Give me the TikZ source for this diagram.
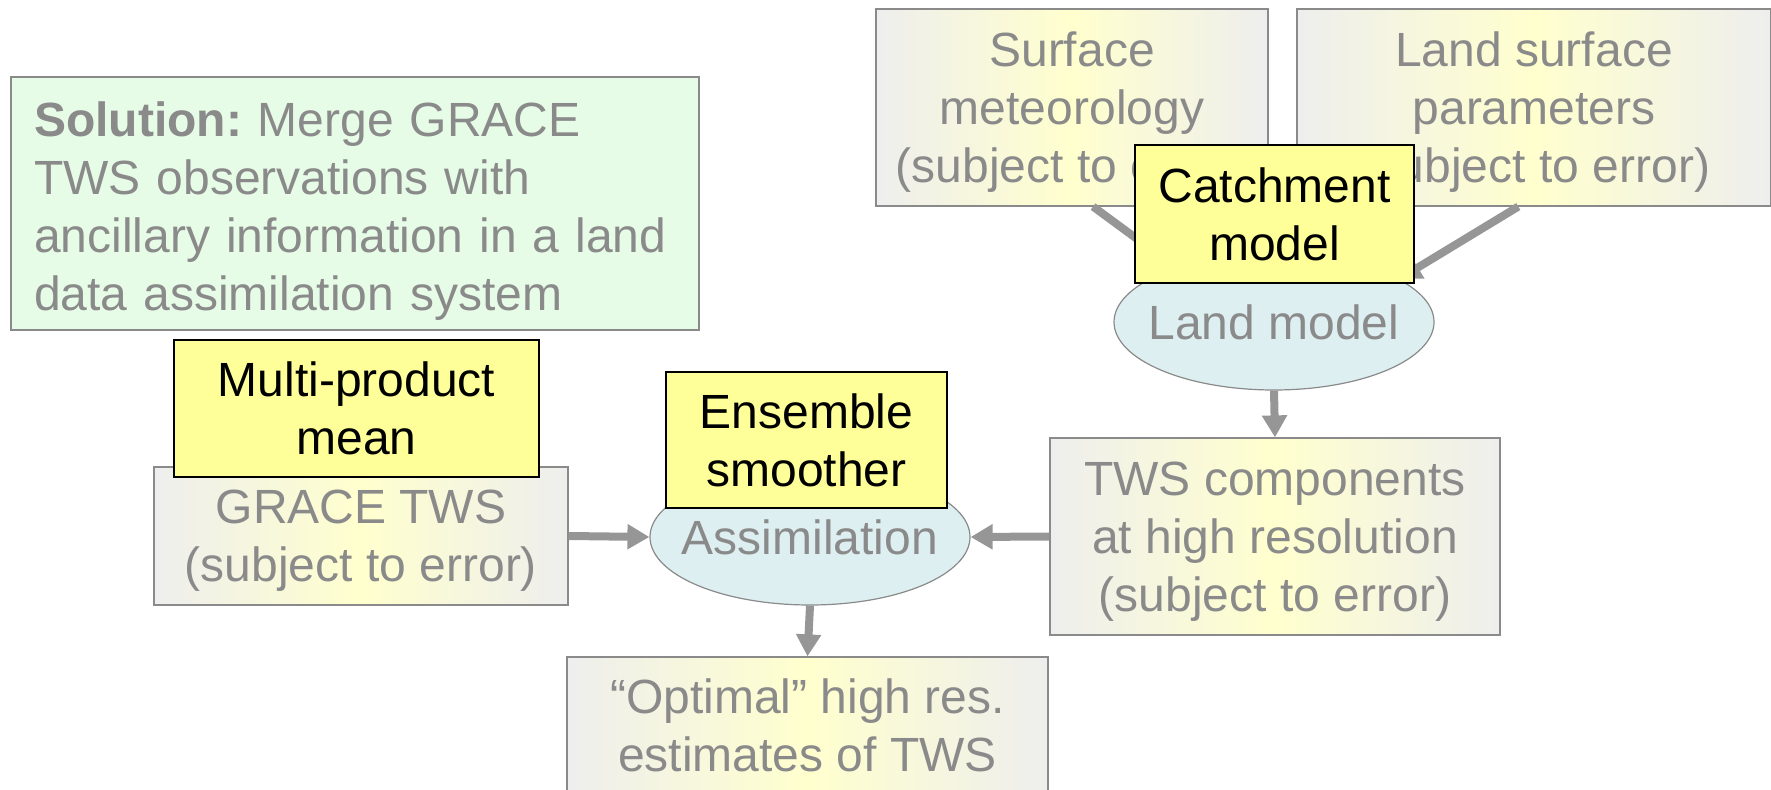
\documentclass[tikz,border=0pt]{standalone}
\usepackage{fontspec}
\setmainfont{Liberation Sans}
\usetikzlibrary{shapes.geometric,arrows.meta}
\definecolor{boxgray}{RGB}{238,238,238}
\definecolor{boxyellow}{RGB}{255,255,206}
\definecolor{notegreen}{RGB}{230,252,230}
\definecolor{ovalblue}{RGB}{221,239,241}
\definecolor{labelyellow}{RGB}{255,255,153}
\definecolor{textgray}{RGB}{138,138,138}
\definecolor{arrowgray}{RGB}{150,150,150}
\frenchspacing

\begin{document}
\begin{tikzpicture}[x=0.5pt,y=0.5pt]
\tikzstyle{every node}+=[font=\fontsize{24}{29}\selectfont, inner sep=0pt]
\tikzstyle{graybox}=[draw=textgray, line width=0.6pt, left color=boxgray, right color=boxgray, middle color=boxyellow, text=textgray, align=center, text depth=-1pt]
\tikzstyle{notebox}=[draw=textgray, line width=0.6pt, fill=notegreen, text=textgray, align=left, inner xsep=11.5pt, text width=321pt, minimum height=126.5pt, text depth=84pt]
\tikzstyle{methodbox}=[draw=black, line width=1.2pt, fill=labelyellow, align=center, text depth=-3pt]
\tikzstyle{oval}=[ellipse, draw=textgray, line width=0.6pt, fill=ovalblue, text=textgray, inner xsep=-20pt, minimum width=160pt, minimum height=68pt]
\tikzstyle{flow}=[arrowgray, line width=4pt, -{Triangle[length=11pt,width=12pt]}]
\useasboundingbox (0,0) rectangle (1771,-790);
\node[notebox] (sol) at (355,-203.5) {\textbf{Solution:} Merge GRACE\\ TWS observations with\\ ancillary information in a land\\ data assimilation system};
\node[graybox, minimum width=196pt, minimum height=98.5pt] (met) at (1072,-107.5) {Surface\\ meteorology\\ (subject to error)};
\node[graybox, minimum width=237pt, minimum height=98.5pt] (lsp) at (1534,-107.5) {Land surface\\ parameters\\ (subject to error)};
\node[graybox, minimum width=207pt, minimum height=69pt] (grace) at (361,-536) {GRACE TWS\\ (subject to error)};
\node[graybox, minimum width=225pt, minimum height=98.5pt] (tws) at (1275,-536.5) {TWS components\\ at high resolution\\ (subject to error)};
\node[graybox, minimum width=240.5pt, minimum height=68pt] (opt) at (807.5,-725) {“Optimal” high res.\\ estimates of TWS};
\node[oval] (land) at (1274,-322) {Land model};
\node[oval] (assim) at (810,-537) {Assimilation};
\draw[flow] (met.-78.5) -- (land.151);
\draw[flow] (lsp.261.3) -- (land.19);
\draw[flow] (land.south) -- (tws.north);
\draw[flow] (grace.east) -- (assim.west);
\draw[flow] (tws.west) -- (assim.east);
\draw[flow] (assim.south) -- (opt.north);
\node[methodbox, minimum width=139.5pt, minimum height=69pt] (cat) at (1274.5,-214) {Catchment\\ model};
\node[methodbox, minimum width=140.5pt, minimum height=68pt] (ens) at (806.5,-440) {Ensemble\\ smoother};
\node[methodbox, minimum width=182.5pt, minimum height=68.5pt] (multi) at (356.5,-408.5) {Multi-product\\ mean};
\end{tikzpicture}
\end{document}
